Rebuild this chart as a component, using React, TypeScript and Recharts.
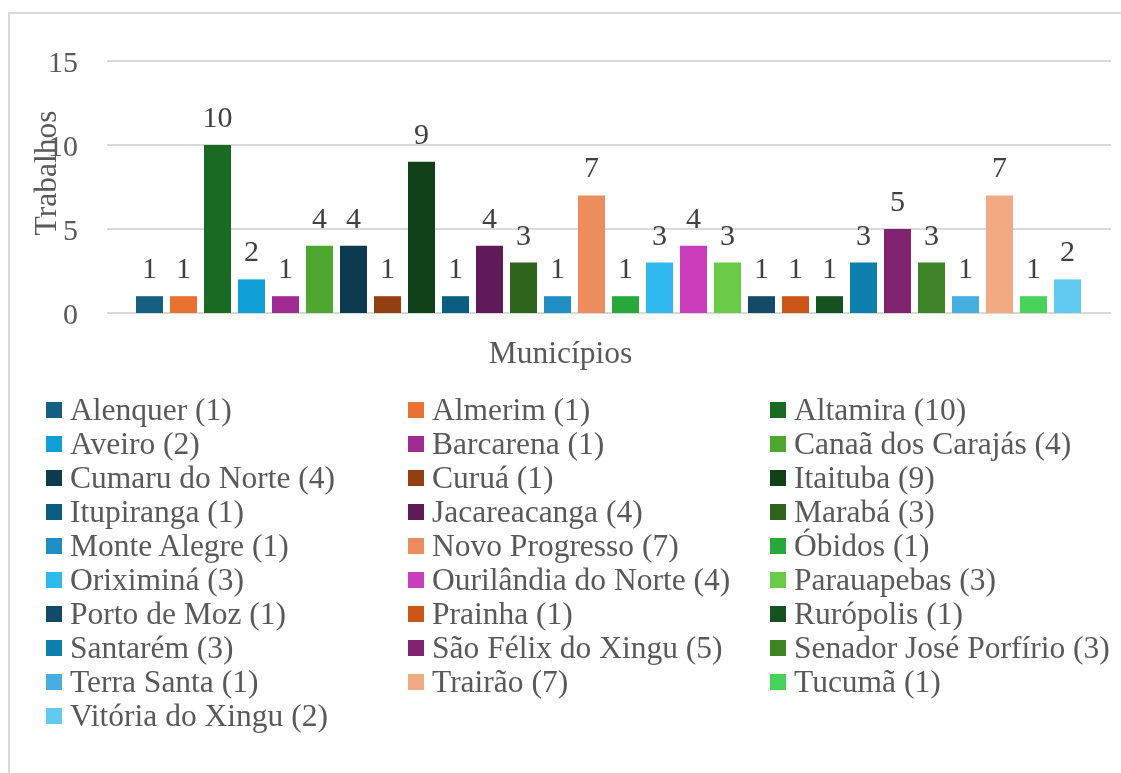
import { BarChart, Bar, XAxis, YAxis, CartesianGrid, LabelList } from "recharts";

const municipios = [
    "Alenquer", "Almerim", "Altamira", "Aveiro", "Barcarena", "Canaã dos Carajás",
    "Cumaru do Norte", "Curuá", "Itaituba", "Itupiranga", "Jacareacanga", "Marabá",
    "Monte Alegre", "Novo Progresso", "Óbidos", "Oriximiná", "Ourilândia do Norte", "Parauapebas",
    "Porto de Moz", "Prainha", "Rurópolis", "Santarém", "São Félix do Xingu", "Senador José Porfírio",
    "Terra Santa", "Trairão", "Tucumã", "Vitória do Xingu",
];

const trabalhos = [
    1, 1, 10, 2, 1, 4,
    4, 1, 9, 1, 4, 3,
    1, 7, 1, 3, 4, 3,
    1, 1, 1, 3, 5, 3,
    1, 7, 1, 2,
];

const cores = [
    "#156082", "#E97132", "#196B24", "#0F9ED5", "#A02B93", "#4EA72E",
    "#0E3A4F", "#933F12", "#0F4018", "#0A5F80", "#601A57", "#2F641C",
    "#1F8FC3", "#ED8D5E", "#28A83A", "#2FB9EE", "#CB3EBB", "#6ACC46",
    "#134A68", "#CC5618", "#15521F", "#0E7FAD", "#812271", "#3F8527",
    "#46AFDF", "#F2AA84", "#47D35A", "#62C9F1",
];

const yTicks = [0, 5, 10, 15];

const FONT = "Liberation Serif";
const TEXT = "#595959";
const W = 1105;
const H = 380;

// one category, one bar per municipality
const chartData = [
    trabalhos.reduce<Record<string, number | string>>(
        (acc, v, i) => {
            acc[`m${i}`] = v;
            return acc;
        },
        { name: "" }
    ),
];

const YLabel = ({ viewBox }: any) => {
    const cx = viewBox.x + 37;
    const cy = viewBox.y + viewBox.height / 2 - 14;
    return (
        <text
            x={cx}
            y={cy}
            transform={`rotate(-90 ${cx} ${cy})`}
            textAnchor="middle"
            dominantBaseline="central"
            fontSize={31.5}
            fill={TEXT}
            fontFamily={FONT}
        >
            Trabalhos
        </text>
    );
};

const XLabel = ({ viewBox }: any) => (
    <text
        x={W / 2}
        y={viewBox.y + 50}
        textAnchor="middle"
        fontSize={31.5}
        fill={TEXT}
        fontFamily={FONT}
    >
        Municípios
    </text>
);

export default function App() {
    return (
        <div
            style={{
                position: "relative",
                width: W,
                height: 753,
                marginTop: 4,
                fontFamily: FONT,
            }}
        >
            {/* chart frame, only left and top edges show in the picture */}
            <div
                style={{
                    position: "fixed",
                    left: 8,
                    top: 12,
                    width: 1140,
                    height: 800,
                    borderLeft: "2px solid #d9d9d9",
                    borderTop: "2px solid #d9d9d9",
                    pointerEvents: "none",
                }}
            />
            <div style={{ position: "absolute", left: 0, top: 0 }}>
                <BarChart
                    width={W}
                    height={H}
                    data={chartData}
                    margin={{ top: 49, right: 2, left: 0, bottom: 19 }}
                    barCategoryGap={29}
                    barGap={7}
                >
                    <CartesianGrid vertical={false} stroke="#d9d9d9" strokeWidth={2} />
                    <XAxis
                        dataKey="name"
                        tick={false}
                        axisLine={false}
                        tickLine={false}
                        height={60}
                        label={XLabel}
                    />
                    <YAxis
                        width={99}
                        domain={[0, 15]}
                        ticks={yTicks}
                        axisLine={false}
                        tickLine={false}
                        tickSize={0}
                        tickMargin={29}
                        tick={{ fontSize: 30, fill: TEXT, fontFamily: FONT }}
                        label={YLabel}
                    />
                    {municipios.map((m, i) => (
                        <Bar
                            key={m}
                            dataKey={`m${i}`}
                            name={m}
                            fill={cores[i]}
                            isAnimationActive={false}
                        >
                            <LabelList
                                position="top"
                                offset={18}
                                fontSize={30}
                                fill="#404040"
                                fontFamily={FONT}
                            />
                        </Bar>
                    ))}
                </BarChart>
            </div>

            {/* legend, 3 columns, row-major */}
            <div
                style={{
                    position: "absolute",
                    left: 38,
                    top: 381,
                    display: "grid",
                    gridTemplateColumns: "362px 362px 362px",
                    gridAutoRows: "34px",
                }}
            >
                {municipios.map((m, i) => (
                    <div
                        key={m}
                        style={{ display: "flex", alignItems: "center", whiteSpace: "nowrap" }}
                    >
                        <span
                            style={{
                                width: 16,
                                height: 16,
                                background: cores[i],
                                marginRight: 8,
                                flex: "none",
                            }}
                        />
                        <span style={{ fontSize: 31.5, lineHeight: "34px", color: TEXT }}>
                            {`${m} (${trabalhos[i]})`}
                        </span>
                    </div>
                ))}
            </div>
        </div>
    );
}
